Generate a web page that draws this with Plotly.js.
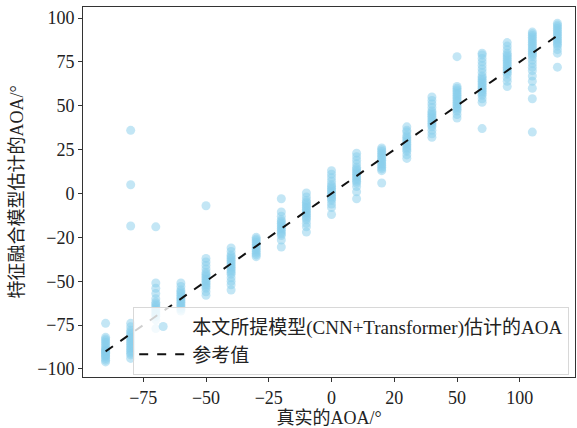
<!DOCTYPE html>
<html>
<head>
<meta charset="utf-8">
<script src="https://cdn.plot.ly/plotly-3.0.1.min.js"></script>
<style>html,body{margin:0;padding:0;background:#fff;}#chart{width:577px;height:428px;}</style>
</head>
<body>
<div id="chart"></div>
<script>
// True AOA values (degrees)
const trueAngles = [-90, -80, -70, -60, -50, -40, -30, -20, -10, 0, 10, 20, 30, 40, 50, 60, 70, 80, 90];
// Estimated AOA values for each true angle
const estM90 = [-74, -82, -83, -84, -85, -86, -87, -88, -89, -89.5, -90, -90.5, -91, -92, -92.5, -93, -94, -95, -96];
const estM80 = [36, 5, -18.5, -74, -76, -78, -79, -80, -81, -82, -83, -84, -85, -86, -87, -88, -89, -90, -91, -92, -94];
const estM70 = [-19, -51, -54, -57, -60, -62, -63, -64, -65, -66, -67, -68, -69, -70, -72, -77];
const estM60 = [-51, -53, -55, -56, -57, -58, -59, -60, -61, -62, -63, -64, -65, -66, -67];
const estM50 = [-7, -37, -39, -41, -43, -45, -46, -47, -48, -49, -50, -51, -52, -53, -54, -56, -58];
const estM40 = [-31, -33, -35, -36, -37, -38, -39, -40, -41, -42, -43, -44, -45, -46, -48, -50, -52, -55];
const estM30 = [-25, -26, -27, -28, -29, -30, -31, -32, -33, -34, -35, -36];
const estM20 = [-3, -10.5, -13, -15, -16, -17, -18, -19, -20, -21, -22, -23, -24, -26.5, -30.5];
const estM10 = [0.3, -2, -4, -5, -6, -7, -8, -9, -10, -11, -12, -13, -14, -15, -17, -19, -22];
const est0   = [13, 11, 9, 7, 5, 4, 3, 2, 1, 0, -1, -2, -3, -4, -6, -8, -12];
const estP10 = [23, 21, 19, 17, 15, 14, 13, 12, 11, 10, 9, 8, 7, 6, 4, 1, -3];
const estP20 = [26, 25, 24, 23, 22, 21, 20, 19, 18, 17, 16, 15, 14, 13, 6];
const estP30 = [38, 36, 35, 33, 32, 31, 30, 29, 28, 27, 26, 25, 24, 22, 20];
const estP40 = [55, 53, 51, 49, 47, 46, 45, 44, 43, 42, 41, 40, 39, 38, 36, 34, 32];
const estP50 = [78, 61, 60, 59, 58, 57, 56, 55, 54, 53, 52, 51, 50, 49, 48, 47, 45, 43];
const estP60 = [80, 79, 77, 75, 73, 71, 69, 67, 66, 65, 64, 63, 62, 61, 60, 59, 58, 57, 56, 54, 52, 37];
const estP70 = [86, 84, 82, 80, 79, 78, 77, 76, 75, 74, 73, 72, 71, 70, 69, 68, 66, 64, 61];
const estP80 = [92, 91, 90, 89, 88, 87, 86, 85, 84, 83, 82, 81, 80, 79, 78, 76, 74, 72, 70, 67, 64, 60, 54, 35];
const estP90 = [97, 96, 95, 94, 93, 92, 91, 90, 89, 88, 87, 86, 85, 84, 82, 80, 72];
const estimates = [estM90, estM80, estM70, estM60, estM50, estM40, estM30, estM20, estM10, est0,
                   estP10, estP20, estP30, estP40, estP50, estP60, estP70, estP80, estP90];
// Reference line endpoints
const refX = [-90, 90];
const refY = [-90, 90];
// Tick positions and labels
const xTickVals = [-75, -50, -25, 0, 25, 50, 75];
const xTickText = ['\u221275', '\u221250', '\u221225', '0', '20', '50', '100'];
const yTickVals = [-100, -75, -50, -25, 0, 25, 50, 75, 100];
const yTickText = ['\u2212100', '\u221275', '\u221250', '\u221220', '0', '25', '50', '75', '100'];

const xs = [], ys = [];
trueAngles.forEach((a, i) => { estimates[i].forEach(v => { xs.push(a); ys.push(v); }); });

const FONT = 'Liberation Serif, Times New Roman, Noto Sans CJK SC, serif';

const traces = [
  {
    type: 'scatter', mode: 'markers', x: xs, y: ys,
    name: '本文所提模型(CNN+Transformer)估计的AOA',
    marker: {color: 'rgba(135,206,235,0.5)', size: 9, line: {width: 0}}
  },
  {
    type: 'scatter', mode: 'lines', x: refX, y: refY,
    name: '参考值',
    line: {color: '#111', width: 2, dash: 'dash'}
  }
];

const layout = {
  width: 577, height: 428,
  margin: {l: 83, r: 2, t: 7, b: 51},
  paper_bgcolor: '#fff', plot_bgcolor: '#fff',
  font: {family: FONT, size: 18, color: '#222'},
  showlegend: true,
  legend: {
    x: 0.102, y: 0.19, xanchor: 'left', yanchor: 'top',
    bgcolor: 'rgba(255,255,255,0.8)', bordercolor: '#d8d8d8', borderwidth: 1,
    font: {family: FONT, size: 19, color: '#222'},
    itemwidth: 48, tracegroupgap: 0
  },
  xaxis: {
    range: [-99, 97], tickvals: xTickVals, ticktext: xTickText,
    showgrid: false, zeroline: false, showline: true, mirror: true,
    linecolor: '#333', linewidth: 1, ticks: 'outside', ticklen: 4, tickcolor: '#333',
    tickfont: {family: FONT, size: 18},
    title: {text: '真实的AOA/°', font: {family: FONT, size: 18}, standoff: 5},
    automargin: false
  },
  yaxis: {
    range: [-104.6, 106.3], tickvals: yTickVals, ticktext: yTickText,
    showgrid: false, zeroline: false, showline: true, mirror: true,
    linecolor: '#333', linewidth: 1, ticks: 'outside', ticklen: 4, tickcolor: '#333',
    tickfont: {family: FONT, size: 18},
    title: {text: '特征融合模型估计的AOA/°', font: {family: FONT, size: 18}, standoff: 8},
    automargin: false
  }
};

Plotly.newPlot('chart', traces, layout, {displayModeBar: false, staticPlot: true});
</script>
</body>
</html>
